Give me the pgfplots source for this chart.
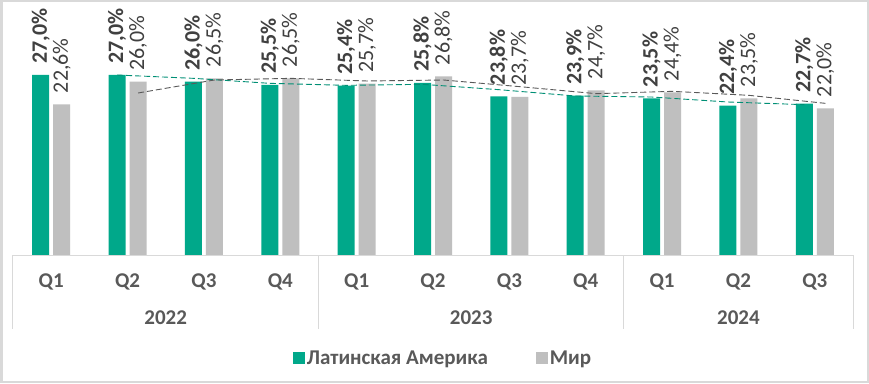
\documentclass[border=0pt]{standalone}
\usepackage{fontspec}
\setmainfont{Carlito}
\usepackage{pgfplots}
\pgfplotsset{compat=1.18}
\definecolor{latam}{HTML}{00A88A}
\definecolor{world}{HTML}{BFBFBF}
\definecolor{txt}{HTML}{595959}
\definecolor{lbl}{HTML}{404040}
\definecolor{sep}{HTML}{D9D9D9}
\begin{document}
\begin{tikzpicture}[x=1pt,y=1pt]
\path[use as bounding box] (0,0) rectangle (869,383);
\fill[white] (0,0) rectangle (869,383);
\draw[sep, line width=2.5pt] (1.25,1.25) rectangle (867.75,381.75);
\begin{axis}[
  at={(13pt,128pt)}, anchor=south west,
  scale only axis, width=840pt, height=250pt,
  xmin=-0.5, xmax=10.5, ymin=0, ymax=37.5,
  axis line style={draw=none}, ytick=\empty,
  xtick={0,...,10}, xticklabels={Q1,Q2,Q3,Q4,Q1,Q2,Q3,Q4,Q1,Q2,Q3},
  major tick length=0pt,
  xticklabel style={anchor=center, yshift=-27pt, font=\fontsize{21}{24}\selectfont\bfseries, text=txt},
  ybar=4pt, bar width=17pt,
  clip=false,
  /pgf/number format/assume math mode=true,
  nodes near coords={\pgfmathprintnumber[fixed,fixed zerofill,precision=1,use comma]{\pgfplotspointmeta}\%},
  every node near coord/.append style={rotate=90, anchor=west, inner xsep=11pt, inner ysep=0pt, text=lbl, font=\fontsize{22}{24}\selectfont},
  legend style={at={(0.5,0)}, anchor=center, yshift=-103pt, xshift=10pt, draw=none, fill=none,
    legend columns=2, font=\fontsize{21}{24}\selectfont\bfseries, text=txt,
    /tikz/every even column/.append style={column sep=46pt}},
  legend image code/.code={\fill[#1] (0pt,-6pt) rectangle (12pt,6pt);},
]
\addplot[fill=latam, draw=none, every node near coord/.append style={font=\fontsize{22}{24}\selectfont\bfseries}] coordinates {
(0,27.0) (1,27.0) (2,26.0) (3,25.5) (4,25.4) (5,25.8) (6,23.8) (7,23.9) (8,23.5) (9,22.4) (10,22.7)};
\addplot[fill=world, draw=none] coordinates {
(0,22.6) (1,26.0) (2,26.5) (3,26.5) (4,25.7) (5,26.8) (6,23.7) (7,24.7) (8,24.4) (9,23.5) (10,22.0)};
\legend{Латинская Америка, Мир}
% two-period moving averages
\addplot[sharp plot, forget plot, no marks, nodes near coords={}, draw=latam!85!black, line width=0.9pt, dash pattern=on 6pt off 3pt] coordinates {
(0.8625,27.0) (1.8625,26.5) (2.8625,25.75) (3.8625,25.45) (4.8625,25.6) (5.8625,24.8) (6.8625,23.85) (7.8625,23.7) (8.8625,22.95) (9.8625,22.55)};
\addplot[sharp plot, forget plot, no marks, nodes near coords={}, draw=black!65, line width=0.9pt, dash pattern=on 6pt off 3pt] coordinates {
(1.1375,24.3) (2.1375,26.25) (3.1375,26.5) (4.1375,26.1) (5.1375,26.25) (6.1375,25.25) (7.1375,24.2) (8.1375,24.55) (9.1375,23.95) (10.1375,22.75)};
\draw[sep, line width=1pt] (axis cs:-0.5,0) -- (axis cs:10.5,0);
\draw[sep, line width=1pt] (axis cs:-0.5,0) -- ([yshift=-74pt]axis cs:-0.5,0);
\draw[sep, line width=1pt] (axis cs:3.5,0) -- ([yshift=-74pt]axis cs:3.5,0);
\draw[sep, line width=1pt] (axis cs:7.5,0) -- ([yshift=-74pt]axis cs:7.5,0);
\draw[sep, line width=1pt] (axis cs:10.5,0) -- ([yshift=-74pt]axis cs:10.5,0);
\node[font=\fontsize{21}{24}\selectfont\bfseries, text=txt] at ([yshift=-63pt]axis cs:1.5,0) {2022};
\node[font=\fontsize{21}{24}\selectfont\bfseries, text=txt] at ([yshift=-63pt]axis cs:5.5,0) {2023};
\node[font=\fontsize{21}{24}\selectfont\bfseries, text=txt] at ([yshift=-63pt]axis cs:9,0) {2024};
\end{axis}
\end{tikzpicture}
\end{document}
